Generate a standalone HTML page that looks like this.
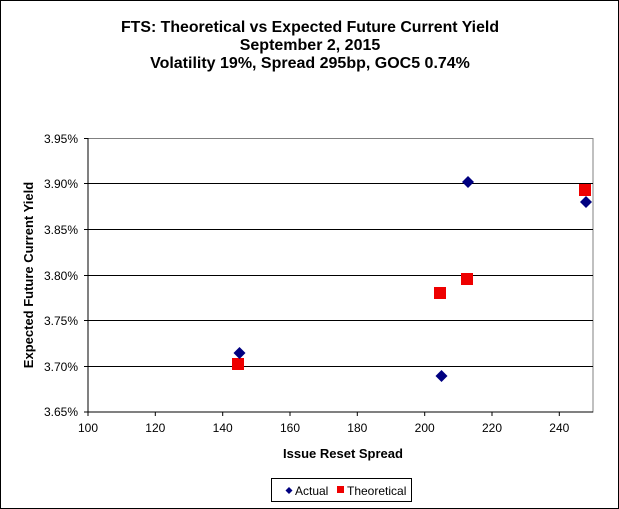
<!DOCTYPE html>
<html><head><style>
body{margin:0;background:#fff}
svg{display:block}
text{font-family:"Liberation Sans",Arial,sans-serif}
</style></head><body>
<svg width="619" height="509" viewBox="0 0 619 509">
<rect x="0.5" y="0.5" width="618" height="508" fill="#fff" stroke="#000"/>
<g font-weight="bold" font-size="16" text-anchor="middle" fill="#000">
<text x="310" y="32" textLength="378" lengthAdjust="spacingAndGlyphs">FTS: Theoretical vs Expected Future Current Yield</text>
<text x="310" y="50">September 2, 2015</text>
<text x="310" y="68">Volatility 19%, Spread 295bp, GOC5 0.74%</text>
</g>
<rect x="88" y="138.5" width="505" height="273.5" fill="#fff" stroke="#808080"/>
<g stroke="#000" stroke-width="1">
<line x1="88" y1="183.5" x2="593" y2="183.5"/>
<line x1="88" y1="229.5" x2="593" y2="229.5"/>
<line x1="88" y1="275.5" x2="593" y2="275.5"/>
<line x1="88" y1="320.5" x2="593" y2="320.5"/>
<line x1="88" y1="366.5" x2="593" y2="366.5"/>
<line x1="88" y1="412" x2="593" y2="412"/>
<line x1="88" y1="138" x2="88" y2="412"/>
</g>
<g stroke="#000">
<line x1="84" y1="138.5" x2="88" y2="138.5"/><line x1="84" y1="183.5" x2="88" y2="183.5"/><line x1="84" y1="229.5" x2="88" y2="229.5"/><line x1="84" y1="275.5" x2="88" y2="275.5"/><line x1="84" y1="320.5" x2="88" y2="320.5"/><line x1="84" y1="366.5" x2="88" y2="366.5"/><line x1="84" y1="412" x2="88" y2="412"/>
<line x1="88" y1="412" x2="88" y2="416"/><line x1="155.3" y1="412" x2="155.3" y2="416"/><line x1="222.7" y1="412" x2="222.7" y2="416"/><line x1="290" y1="412" x2="290" y2="416"/><line x1="357.3" y1="412" x2="357.3" y2="416"/><line x1="424.7" y1="412" x2="424.7" y2="416"/><line x1="492" y1="412" x2="492" y2="416"/><line x1="559.3" y1="412" x2="559.3" y2="416"/>
</g>
<g font-size="12" text-anchor="end" fill="#000">
<text x="78" y="143">3.95%</text><text x="78" y="188">3.90%</text><text x="78" y="234">3.85%</text><text x="78" y="280">3.80%</text><text x="78" y="325">3.75%</text><text x="78" y="371">3.70%</text><text x="78" y="416">3.65%</text>
</g>
<g font-size="12" text-anchor="middle" fill="#000">
<text x="88" y="432">100</text><text x="155.3" y="432">120</text><text x="222.7" y="432">140</text><text x="290" y="432">160</text><text x="357.3" y="432">180</text><text x="424.7" y="432">200</text><text x="492" y="432">220</text><text x="559.3" y="432">240</text>
</g>
<text x="343" y="458" font-size="13" font-weight="bold" text-anchor="middle">Issue Reset Spread</text>
<text transform="translate(33,275) rotate(-90)" font-size="13" font-weight="bold" text-anchor="middle">Expected Future Current Yield</text>
<g fill="#e00">
<rect x="232" y="358" width="12" height="12"/>
<rect x="434" y="287" width="12" height="12"/>
<rect x="461" y="273" width="12" height="12"/>
<rect x="579" y="184" width="12" height="12"/>
</g>
<g fill="#000080">
<path d="M239.5 347l6 6-6 6-6-6z"/>
<path d="M441.5 370l6 6-6 6-6-6z"/>
<path d="M468 176l6 6-6 6-6-6z"/>
<path d="M586 196l6 6-6 6-6-6z"/>
</g>
<rect x="271.5" y="478.5" width="140" height="23" fill="#fff" stroke="#000"/>
<path d="M289 487l3.5 3.5-3.5 3.5-3.5-3.5z" fill="#000080"/>
<text x="295" y="495" font-size="12">Actual</text>
<rect x="337" y="486" width="7" height="7" fill="#e00"/>
<text x="347" y="495" font-size="12">Theoretical</text>
</svg>
</body></html>
